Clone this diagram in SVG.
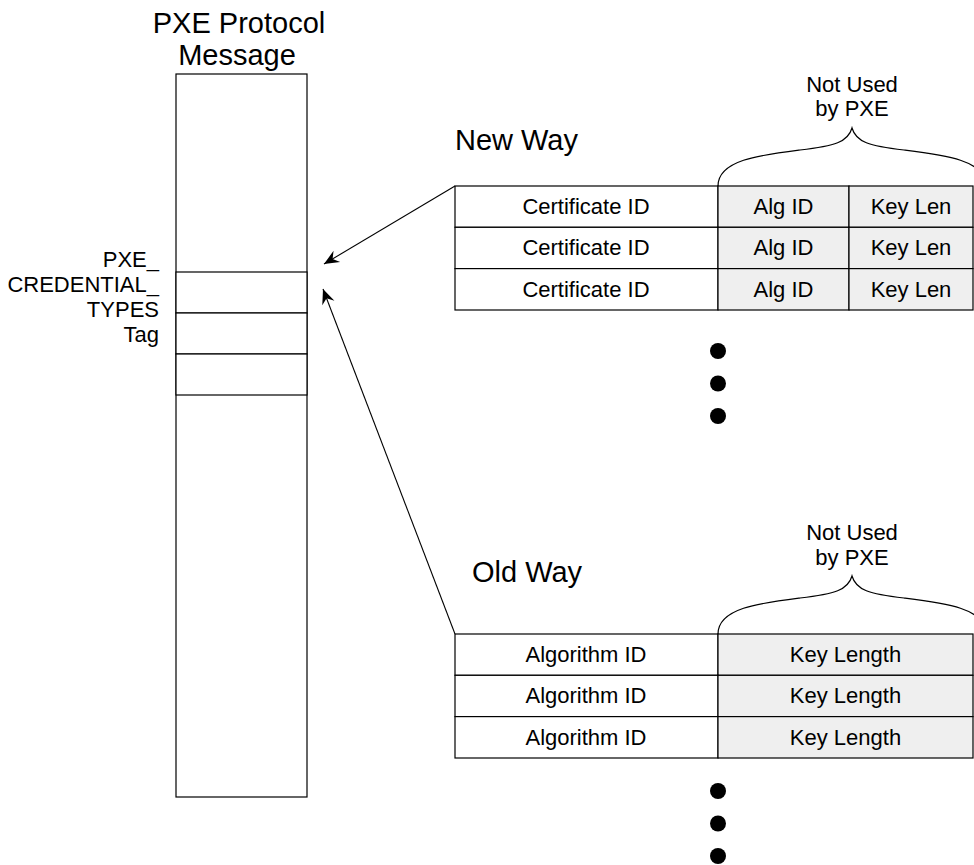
<svg xmlns="http://www.w3.org/2000/svg" width="974" height="865" viewBox="0 0 974 865">
<style>
  text { font-family: "Liberation Sans", Arial, sans-serif; fill: #000; }
  .big { font-size: 29px; }
  .sm { font-size: 22px; }
  .c { text-anchor: middle; }
  .r { text-anchor: end; }
  .cell { fill: #fff; stroke: #000; stroke-width: 1.2; }
  .gray { fill: #efefef; stroke: #000; stroke-width: 1.2; }
  .brace { fill: none; stroke: #000; stroke-width: 1.2; }
  .conn { fill: none; stroke: #000; stroke-width: 1.1; marker-end: url(#ah); }
  .dot { fill: #000; }
</style>
<defs>
  <marker id="ah" viewBox="-16 -8 17 16" markerWidth="17" markerHeight="16" refX="0" refY="0" orient="auto" markerUnits="userSpaceOnUse">
    <path d="M0,0 L-15,-6.5 L-10,0 L-15,6.5 Z" fill="#000"/>
  </marker>
</defs>
<rect width="974" height="865" fill="#fff"/>

<g id="pxe-message">
  <text class="big c" x="239" y="33">PXE Protocol</text>
  <text class="big c" x="237" y="65">Message</text>
  <rect class="cell" x="176" y="74" width="131" height="723" stroke="#444"/>
  <rect class="cell" x="176" y="272" width="131" height="41"/>
  <rect class="cell" x="176" y="313" width="131" height="41"/>
  <rect class="cell" x="176" y="354" width="131" height="41"/>
  <text class="sm r" x="159" y="267">PXE_</text>
  <text class="sm r" x="159" y="292">CREDENTIAL_</text>
  <text class="sm r" x="159" y="317">TYPES</text>
  <text class="sm r" x="159" y="342">Tag</text>
</g>

<g id="new-way">
  <text class="big" x="455" y="150">New Way</text>
  <text class="sm c" x="852" y="92">Not Used</text>
  <text class="sm c" x="852" y="116">by PXE</text>
  <path class="brace" d="M718,186 C718,160 760,155 800,150 C835,146 848,142 852,128 C856,142 869,146 904,150 C944,155 986,160 986,186"/>
  <rect class="cell" x="455" y="186" width="263" height="41.3"/>
  <rect class="gray" x="718" y="186" width="131" height="41.3"/>
  <rect class="gray" x="849" y="186" width="124" height="41.3"/>
  <rect class="cell" x="455" y="227.3" width="263" height="41.3"/>
  <rect class="gray" x="718" y="227.3" width="131" height="41.3"/>
  <rect class="gray" x="849" y="227.3" width="124" height="41.3"/>
  <rect class="cell" x="455" y="268.6" width="263" height="41.4"/>
  <rect class="gray" x="718" y="268.6" width="131" height="41.4"/>
  <rect class="gray" x="849" y="268.6" width="124" height="41.4"/>
  <text class="sm c" x="586" y="214">Certificate ID</text>
  <text class="sm c" x="783.5" y="214">Alg ID</text>
  <text class="sm c" x="911" y="214">Key Len</text>
  <text class="sm c" x="586" y="255.3">Certificate ID</text>
  <text class="sm c" x="783.5" y="255.3">Alg ID</text>
  <text class="sm c" x="911" y="255.3">Key Len</text>
  <text class="sm c" x="586" y="296.6">Certificate ID</text>
  <text class="sm c" x="783.5" y="296.6">Alg ID</text>
  <text class="sm c" x="911" y="296.6">Key Len</text>
  <circle class="dot" cx="718" cy="351" r="8"/>
  <circle class="dot" cx="718" cy="383.5" r="8"/>
  <circle class="dot" cx="718" cy="416" r="8"/>
</g>

<g id="old-way">
  <text class="big" x="472" y="582">Old Way</text>
  <text class="sm c" x="852" y="540">Not Used</text>
  <text class="sm c" x="852" y="565">by PXE</text>
  <path class="brace" d="M718,634 C718,608 760,603 800,598 C835,594 848,590 852,576 C856,590 869,594 904,598 C944,603 986,608 986,634"/>
  <rect class="cell" x="455" y="634" width="263" height="41.3"/>
  <rect class="gray" x="718" y="634" width="255" height="41.3"/>
  <rect class="cell" x="455" y="675.3" width="263" height="41.3"/>
  <rect class="gray" x="718" y="675.3" width="255" height="41.3"/>
  <rect class="cell" x="455" y="716.6" width="263" height="41.4"/>
  <rect class="gray" x="718" y="716.6" width="255" height="41.4"/>
  <text class="sm c" x="586" y="662">Algorithm ID</text>
  <text class="sm c" x="845.5" y="662">Key Length</text>
  <text class="sm c" x="586" y="703.3">Algorithm ID</text>
  <text class="sm c" x="845.5" y="703.3">Key Length</text>
  <text class="sm c" x="586" y="744.6">Algorithm ID</text>
  <text class="sm c" x="845.5" y="744.6">Key Length</text>
  <circle class="dot" cx="718" cy="791" r="8"/>
  <circle class="dot" cx="718" cy="823.5" r="8"/>
  <circle class="dot" cx="718" cy="856" r="8"/>
</g>

<g id="connectors">
  <path class="conn" d="M455,186 L324,264"/>
  <path class="conn" d="M455,634 L323,289"/>
</g>
</svg>
